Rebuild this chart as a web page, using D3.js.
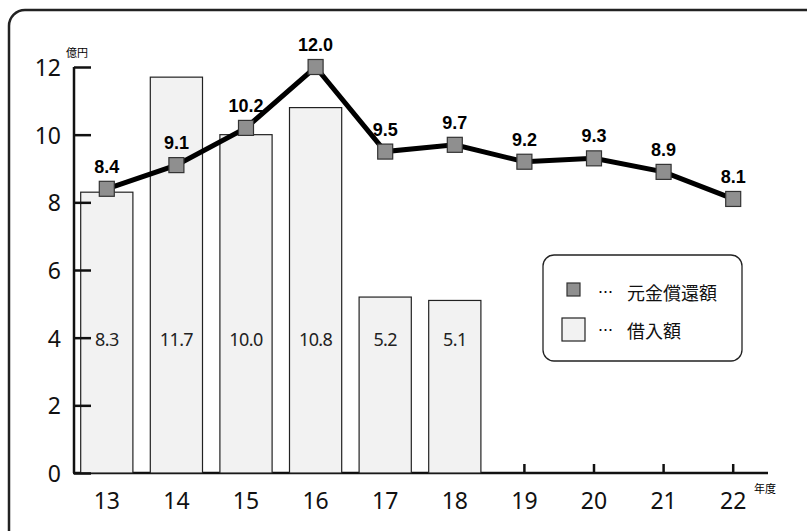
<!DOCTYPE html>
<html><head><meta charset="utf-8">
<script src="https://cdn.jsdelivr.net/npm/d3@7"></script>
<style>body{margin:0;background:#fff}svg{display:block}</style>
</head><body>
<script>
const years = ["13","14","15","16","17","18","19","20","21","22"];
const repayment = [8.4, 9.1, 10.2, 12.0, 9.5, 9.7, 9.2, 9.3, 8.9, 8.1];
const borrowYears = ["13","14","15","16","17","18"];
const borrowing = [8.3, 11.7, 10.0, 10.8, 5.2, 5.1];
const yTicks = [0, 2, 4, 6, 8, 10, 12];
const legendLabels = ["元金償還額", "借入額"];

const W = 807, H = 531;
const font = "'Noto Sans CJK JP', 'Noto Sans', sans-serif";
const numFont = "'Noto Sans', 'Noto Sans CJK JP', sans-serif";
const boldFont = "'Liberation Sans', Arial, sans-serif";
const svg = d3.select("body").append("svg").attr("width", W).attr("height", H)
  .style("font-family", font);

// frame
svg.append("path")
  .attr("d", "M9,545 L9,26 A16,16 0 0 1 25,10 L820,10")
  .attr("fill", "none").attr("stroke", "#222").attr("stroke-width", 2.5);

const x = d3.scaleBand().domain(years).range([72, 768]).paddingInner(0.25).paddingOuter(0.125);
const y = d3.scaleLinear().domain([0, 12]).range([473, 67]);

// bars
svg.append("g").selectAll("rect").data(borrowYears).join("rect")
  .attr("x", d => x(d)).attr("width", x.bandwidth())
  .attr("y", (d, i) => y(borrowing[i])).attr("height", (d, i) => y(0) - y(borrowing[i]))
  .attr("fill", "#f2f2f2").attr("stroke", "#222").attr("stroke-width", 1.2);

svg.append("g").selectAll("text").data(borrowYears).join("text")
  .attr("x", d => x(d) + x.bandwidth() / 2).attr("y", y(4) + 1)
  .attr("text-anchor", "middle").attr("dominant-baseline", "central")
  .attr("font-family", numFont).attr("font-size", 18).attr("fill", "#222")
  .attr("letter-spacing", -0.6)
  .text((d, i) => borrowing[i].toFixed(1));

// y axis
const yAxis = svg.append("g").attr("transform", "translate(74,0)")
  .call(d3.axisRight(y).tickValues(yTicks).tickSize(17).tickFormat(""));
yAxis.select(".domain").attr("stroke", "#111").attr("stroke-width", 2.5).attr("d", `M0,${y(12)}V${y(0)}`);
yAxis.selectAll(".tick line").attr("stroke", "#111").attr("stroke-width", 2.5);
svg.append("g").selectAll("text").data(yTicks).join("text")
  .attr("x", 61).attr("y", d => y(d)).attr("text-anchor", "end")
  .attr("dominant-baseline", "central").attr("font-family", numFont)
  .attr("font-size", 23).attr("fill", "#111")
  .text(d => d);

// x axis
const xAxis = svg.append("g").attr("transform", `translate(0,${y(0)})`)
  .call(d3.axisTop(x).tickSize(9).tickFormat(""));
xAxis.select(".domain").attr("stroke", "#111").attr("stroke-width", 2.5).attr("d", "M73,0H768");
xAxis.selectAll(".tick line").attr("stroke", "#111").attr("stroke-width", 2.5);
xAxis.lower();
svg.append("g").selectAll("text").data(years).join("text")
  .attr("x", d => x(d) + x.bandwidth() / 2).attr("y", 500)
  .attr("text-anchor", "middle").attr("dominant-baseline", "central")
  .attr("font-family", numFont).attr("font-size", 23).attr("fill", "#111").text(d => d);

// unit labels
svg.append("text").attr("x", 77).attr("y", 52).attr("text-anchor", "middle")
  .attr("dominant-baseline", "central").attr("font-size", 11).text("億円");
svg.append("text").attr("x", 754).attr("y", 488)
  .attr("dominant-baseline", "central").attr("font-size", 11).text("年度");

// line
const cx = d => x(d) + x.bandwidth() / 2;
svg.append("path").datum(years)
  .attr("d", d3.line().x(d => cx(d)).y((d, i) => y(repayment[i])))
  .attr("fill", "none").attr("stroke", "#000").attr("stroke-width", 5).attr("stroke-linejoin", "miter");
svg.append("g").selectAll("rect").data(years).join("rect")
  .attr("x", d => cx(d) - 7.5).attr("y", (d, i) => y(repayment[i]) - 7.5)
  .attr("width", 15).attr("height", 15)
  .attr("fill", "#8f8f8f").attr("stroke", "#333").attr("stroke-width", 1.2);
svg.append("g").selectAll("text").data(years).join("text")
  .attr("x", d => cx(d)).attr("y", (d, i) => y(repayment[i]) - 22)
  .attr("text-anchor", "middle").attr("dominant-baseline", "central")
  .attr("font-family", boldFont)
  .attr("font-size", 18).attr("font-weight", "bold").attr("fill", "#000")
  .text((d, i) => repayment[i].toFixed(1));

// legend
const lg = svg.append("g");
lg.append("rect").attr("x", 543).attr("y", 255).attr("width", 199).attr("height", 106)
  .attr("rx", 11).attr("fill", "#fff").attr("stroke", "#222").attr("stroke-width", 1.3);
lg.append("rect").attr("x", 567).attr("y", 283).attr("width", 13).attr("height", 13)
  .attr("fill", "#8f8f8f").attr("stroke", "#333").attr("stroke-width", 1.2);
lg.append("rect").attr("x", 562).attr("y", 318).attr("width", 23).attr("height", 23)
  .attr("fill", "#f2f2f2").attr("stroke", "#222").attr("stroke-width", 1.2);
lg.selectAll("text.dots").data(legendLabels).join("text")
  .attr("x", 598).attr("y", (d, i) => 291 + i * 38)
  .attr("dominant-baseline", "central").attr("font-size", 15).text("…");
lg.selectAll("text.lbl").data(legendLabels).join("text")
  .attr("x", 627).attr("y", (d, i) => 292 + i * 38)
  .attr("dominant-baseline", "central").attr("font-size", 18).attr("fill", "#111").text(d => d);
</script>
</body></html>
